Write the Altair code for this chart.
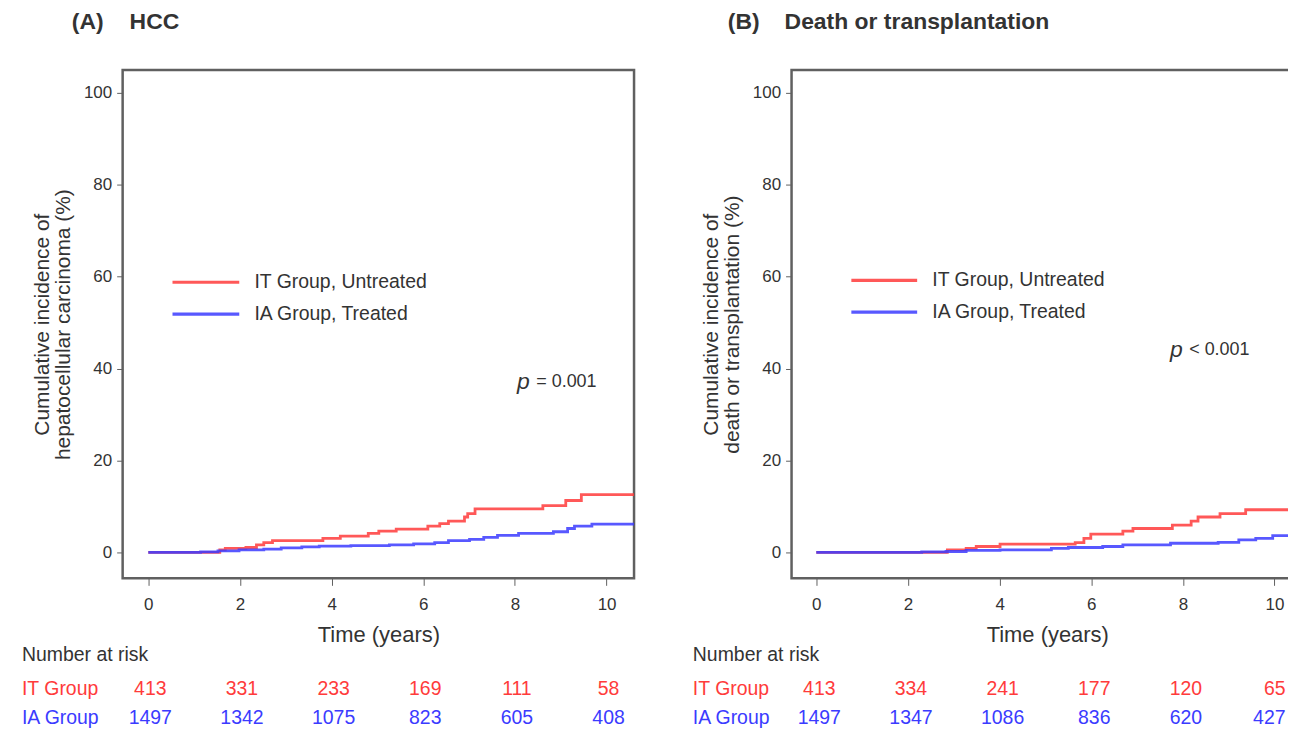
import altair as alt
import pandas as pd

RED = "#ff3b3b"
BLUE = "#3b3bff"
TXT = "#333333"
FRAME = "#606060"
FONT = "Liberation Sans"

# ---------------- data ----------------
risk_times = [0, 2, 4, 6, 8, 10]

# Panel A: HCC
a_it_t = [0, 1.56, 1.68, 2.13, 2.36, 2.52, 2.71, 3.81, 4.19, 4.80, 5.03, 5.41, 6.10, 6.36, 6.55, 6.90, 6.97, 7.13, 8.61, 9.11, 9.45, 10.7]
a_it_y = [0, 0.57, 0.86, 1.07, 1.64, 2.14, 2.57, 3.07, 3.57, 4.14, 4.64, 5.07, 5.71, 6.29, 6.79, 7.71, 8.43, 9.5, 10.2, 11.3, 12.6, 12.6]
a_ia_t = [0, 1.14, 1.52, 1.98, 2.52, 2.90, 3.35, 3.73, 4.42, 5.26, 5.79, 6.25, 6.55, 7.01, 7.32, 7.62, 8.08, 8.84, 9.15, 9.30, 9.68, 10.7]
a_ia_y = [0, 0.14, 0.36, 0.57, 0.71, 1.0, 1.21, 1.36, 1.5, 1.64, 1.86, 2.14, 2.57, 2.86, 3.29, 3.71, 4.14, 4.5, 5.21, 5.71, 6.14, 6.14]
a_risk_it = [413, 331, 233, 169, 111, 58]
a_risk_ia = [1497, 1342, 1075, 823, 605, 408]

# Panel B: Death or transplantation
b_it_t = [0, 2.86, 3.27, 3.49, 4.01, 5.65, 5.84, 5.99, 6.69, 6.91, 7.77, 8.18, 8.33, 8.81, 9.37, 10.41, 10.7]
b_it_y = [0, 0.57, 0.86, 1.29, 1.79, 2.14, 3.07, 4.0, 4.64, 5.21, 5.93, 6.79, 7.71, 8.43, 9.29, 11.3, 11.3]
b_ia_t = [0, 2.30, 2.83, 3.27, 4.01, 5.13, 5.50, 6.25, 6.69, 7.73, 8.77, 9.22, 9.59, 9.96, 10.47, 10.7]
b_ia_y = [0, 0.1, 0.2, 0.43, 0.57, 0.86, 1.07, 1.29, 1.64, 2.0, 2.21, 2.71, 3.07, 3.64, 3.93, 3.93]
b_risk_it = [413, 334, 241, 177, 120, 65]
b_risk_ia = [1497, 1347, 1086, 836, 620, 427]

legend_labels = ["IT Group, Untreated", "IA Group, Treated"]
group_labels = ["IT Group", "IA Group"]

YDOM = [-5.64, 105]
ROW_HDR, ROW_IT, ROW_IA = -22.34, -29.72, -36.01


def panel(it_t, it_y, ia_t, ia_y, risk_it, risk_ia, xdom, tag, name, tag_t, name_t, ytitle,
          p_op, p_t, p_y, leg_t1, leg_t2, leg_y, risk_left, risk_dx, last_right_dx=None):
    xscale = alt.Scale(domain=xdom, nice=False, zero=False)
    yscale = alt.Scale(domain=YDOM, nice=False, zero=False)
    xaxis = alt.Axis(values=risk_times, format="d", grid=False, domain=False,
                     tickSize=7, tickColor=FRAME, labelFontSize=17, labelColor=TXT,
                     labelFont=FONT, labelPadding=11, titleFont=FONT, titleFontSize=22,
                     titleFontWeight="normal", titleColor=TXT, titlePadding=12)
    yaxis = alt.Axis(values=[0, 20, 40, 60, 80, 100], format="d", grid=False, domain=False,
                     tickSize=6, tickColor=FRAME, labelFontSize=17, labelColor=TXT,
                     labelFont=FONT, labelPadding=5, titleFont=FONT, titleFontSize=21,
                     titleFontWeight="normal", titleColor=TXT, titlePadding=10,
                     titleLineHeight=21)

    def X(f="t"):
        return alt.X(f"{f}:Q", scale=xscale, axis=xaxis, title="Time (years)")

    def Y(f="y"):
        return alt.Y(f"{f}:Q", scale=yscale, axis=yaxis, title=ytitle)

    cscale = alt.Scale(domain=["IT", "IA"], range=[RED, BLUE])

    it_df = pd.DataFrame({"t": it_t, "y": it_y})
    ia_df = pd.DataFrame({"t": ia_t, "y": ia_y})
    it_line = alt.Chart(it_df).mark_line(interpolate="step-after", color=RED,
                                         strokeWidth=2.8, opacity=0.85, clip=True).encode(x=X(), y=Y())
    ia_line = alt.Chart(ia_df).mark_line(interpolate="step-after", color=BLUE,
                                         strokeWidth=2.8, opacity=0.85, clip=True).encode(x=X(), y=Y())

    # panel title
    title_df = pd.DataFrame({"t": [tag_t, name_t], "y": [115.4, 115.4], "label": [tag, name]})
    title = alt.Chart(title_df).mark_text(align="left", baseline="middle", font=FONT,
                                          fontSize=23, fontWeight="bold", color=TXT).encode(
        x=X(), y=Y(), text="label:N")

    # legend
    leg_df = pd.DataFrame({"t": [leg_t1, leg_t1], "t2": [leg_t2, leg_t2], "y": leg_y,
                           "label": legend_labels, "g": ["IT", "IA"]})
    leg_rule = alt.Chart(leg_df).mark_rule(strokeWidth=3.2, opacity=0.85).encode(
        x=X(), x2=alt.X2("t2"), y=Y(), color=alt.Color("g:N", scale=cscale, legend=None))
    leg_df2 = leg_df.assign(t=leg_t2 + 0.33)
    leg_text = alt.Chart(leg_df2).mark_text(align="left", baseline="middle", font=FONT,
                                            fontSize=19.5, color=TXT).encode(
        x=X(), y=Y(), text="label:N")

    # p value
    p_df = pd.DataFrame({"t": [p_t], "y": [p_y]})
    p_it = alt.Chart(p_df).mark_text(align="center", baseline="middle", font=FONT, fontSize=23,
                                     fontStyle="italic", color=TXT, text="p", dy=-1).encode(x=X(), y=Y())
    p_df2 = pd.DataFrame({"t": [p_t + 0.28], "y": [p_y]})
    p_txt = alt.Chart(p_df2).mark_text(align="left", baseline="middle", font=FONT, fontSize=18,
                                       color=TXT, text=p_op, dy=-1).encode(x=X(), y=Y())

    # number at risk
    hdr_df = pd.DataFrame({"t": [risk_left], "y": [ROW_HDR]})
    hdr = alt.Chart(hdr_df).mark_text(align="left", baseline="middle", font=FONT, fontSize=19.5,
                                      color=TXT, text="Number at risk").encode(x=X(), y=Y())
    grp_df = pd.DataFrame({"t": [risk_left, risk_left], "y": [ROW_IT, ROW_IA],
                           "label": group_labels, "g": ["IT", "IA"]})
    grp = alt.Chart(grp_df).mark_text(align="left", baseline="middle", font=FONT, fontSize=19.5).encode(
        x=X(), y=Y(), text="label:N", color=alt.Color("g:N", scale=cscale, legend=None))
    risk_df = pd.DataFrame({
        "t": risk_times + risk_times,
        "y": [ROW_IT] * len(risk_times) + [ROW_IA] * len(risk_times),
        "n": risk_it + risk_ia,
        "g": ["IT"] * len(risk_times) + ["IA"] * len(risk_times),
    })
    layers = [it_line, ia_line, title, leg_rule, leg_text, p_it, p_txt, hdr, grp]
    if last_right_dx is None:
        main_df = risk_df
    else:
        last_t = risk_times[-1]
        main_df = risk_df[risk_df["t"] != last_t]
        last_df = risk_df[risk_df["t"] == last_t]
        layers.append(alt.Chart(last_df).mark_text(align="right", baseline="middle", font=FONT,
                                                   fontSize=19.5, dx=last_right_dx).encode(
            x=X(), y=Y(), text="n:Q", color=alt.Color("g:N", scale=cscale, legend=None)))
    layers.append(alt.Chart(main_df).mark_text(align="center", baseline="middle", font=FONT,
                                               fontSize=19.5, dx=risk_dx).encode(
        x=X(), y=Y(), text="n:Q", color=alt.Color("g:N", scale=cscale, legend=None)))

    return alt.layer(*layers).properties(width=513, height=510)


pa = panel(a_it_t, a_it_y, a_ia_t, a_ia_y, a_risk_it, a_risk_ia, [-0.56, 10.6], "(A)", "HCC",
           -1.669, -0.408,
           ["Cumulative incidence of", "hepatocellular carcinoma (%)"],
           "= 0.001", 8.185, 36.88, 0.528, 1.985, [58.79, 51.85], -2.757, 2)
pb = panel(b_it_t, b_it_y, b_ia_t, b_ia_y, b_risk_it, b_risk_ia, [-0.54, 10.62], "(B)", "Death or transplantation",
           -1.932, -0.692,
           ["Cumulative incidence of", "death or transplantation (%)"],
           "< 0.001", 7.857, 43.82, 0.765, 2.201, [59.22, 52.28], -2.694, 3, 11)

chart = alt.hconcat(pa, pb, spacing=55).properties(
    padding={"left": 12, "top": 0, "right": -17, "bottom": 0}
).configure_view(stroke=FRAME, strokeWidth=2.5)

chart.save("out.html", embed_options={"renderer": "svg", "actions": False})
